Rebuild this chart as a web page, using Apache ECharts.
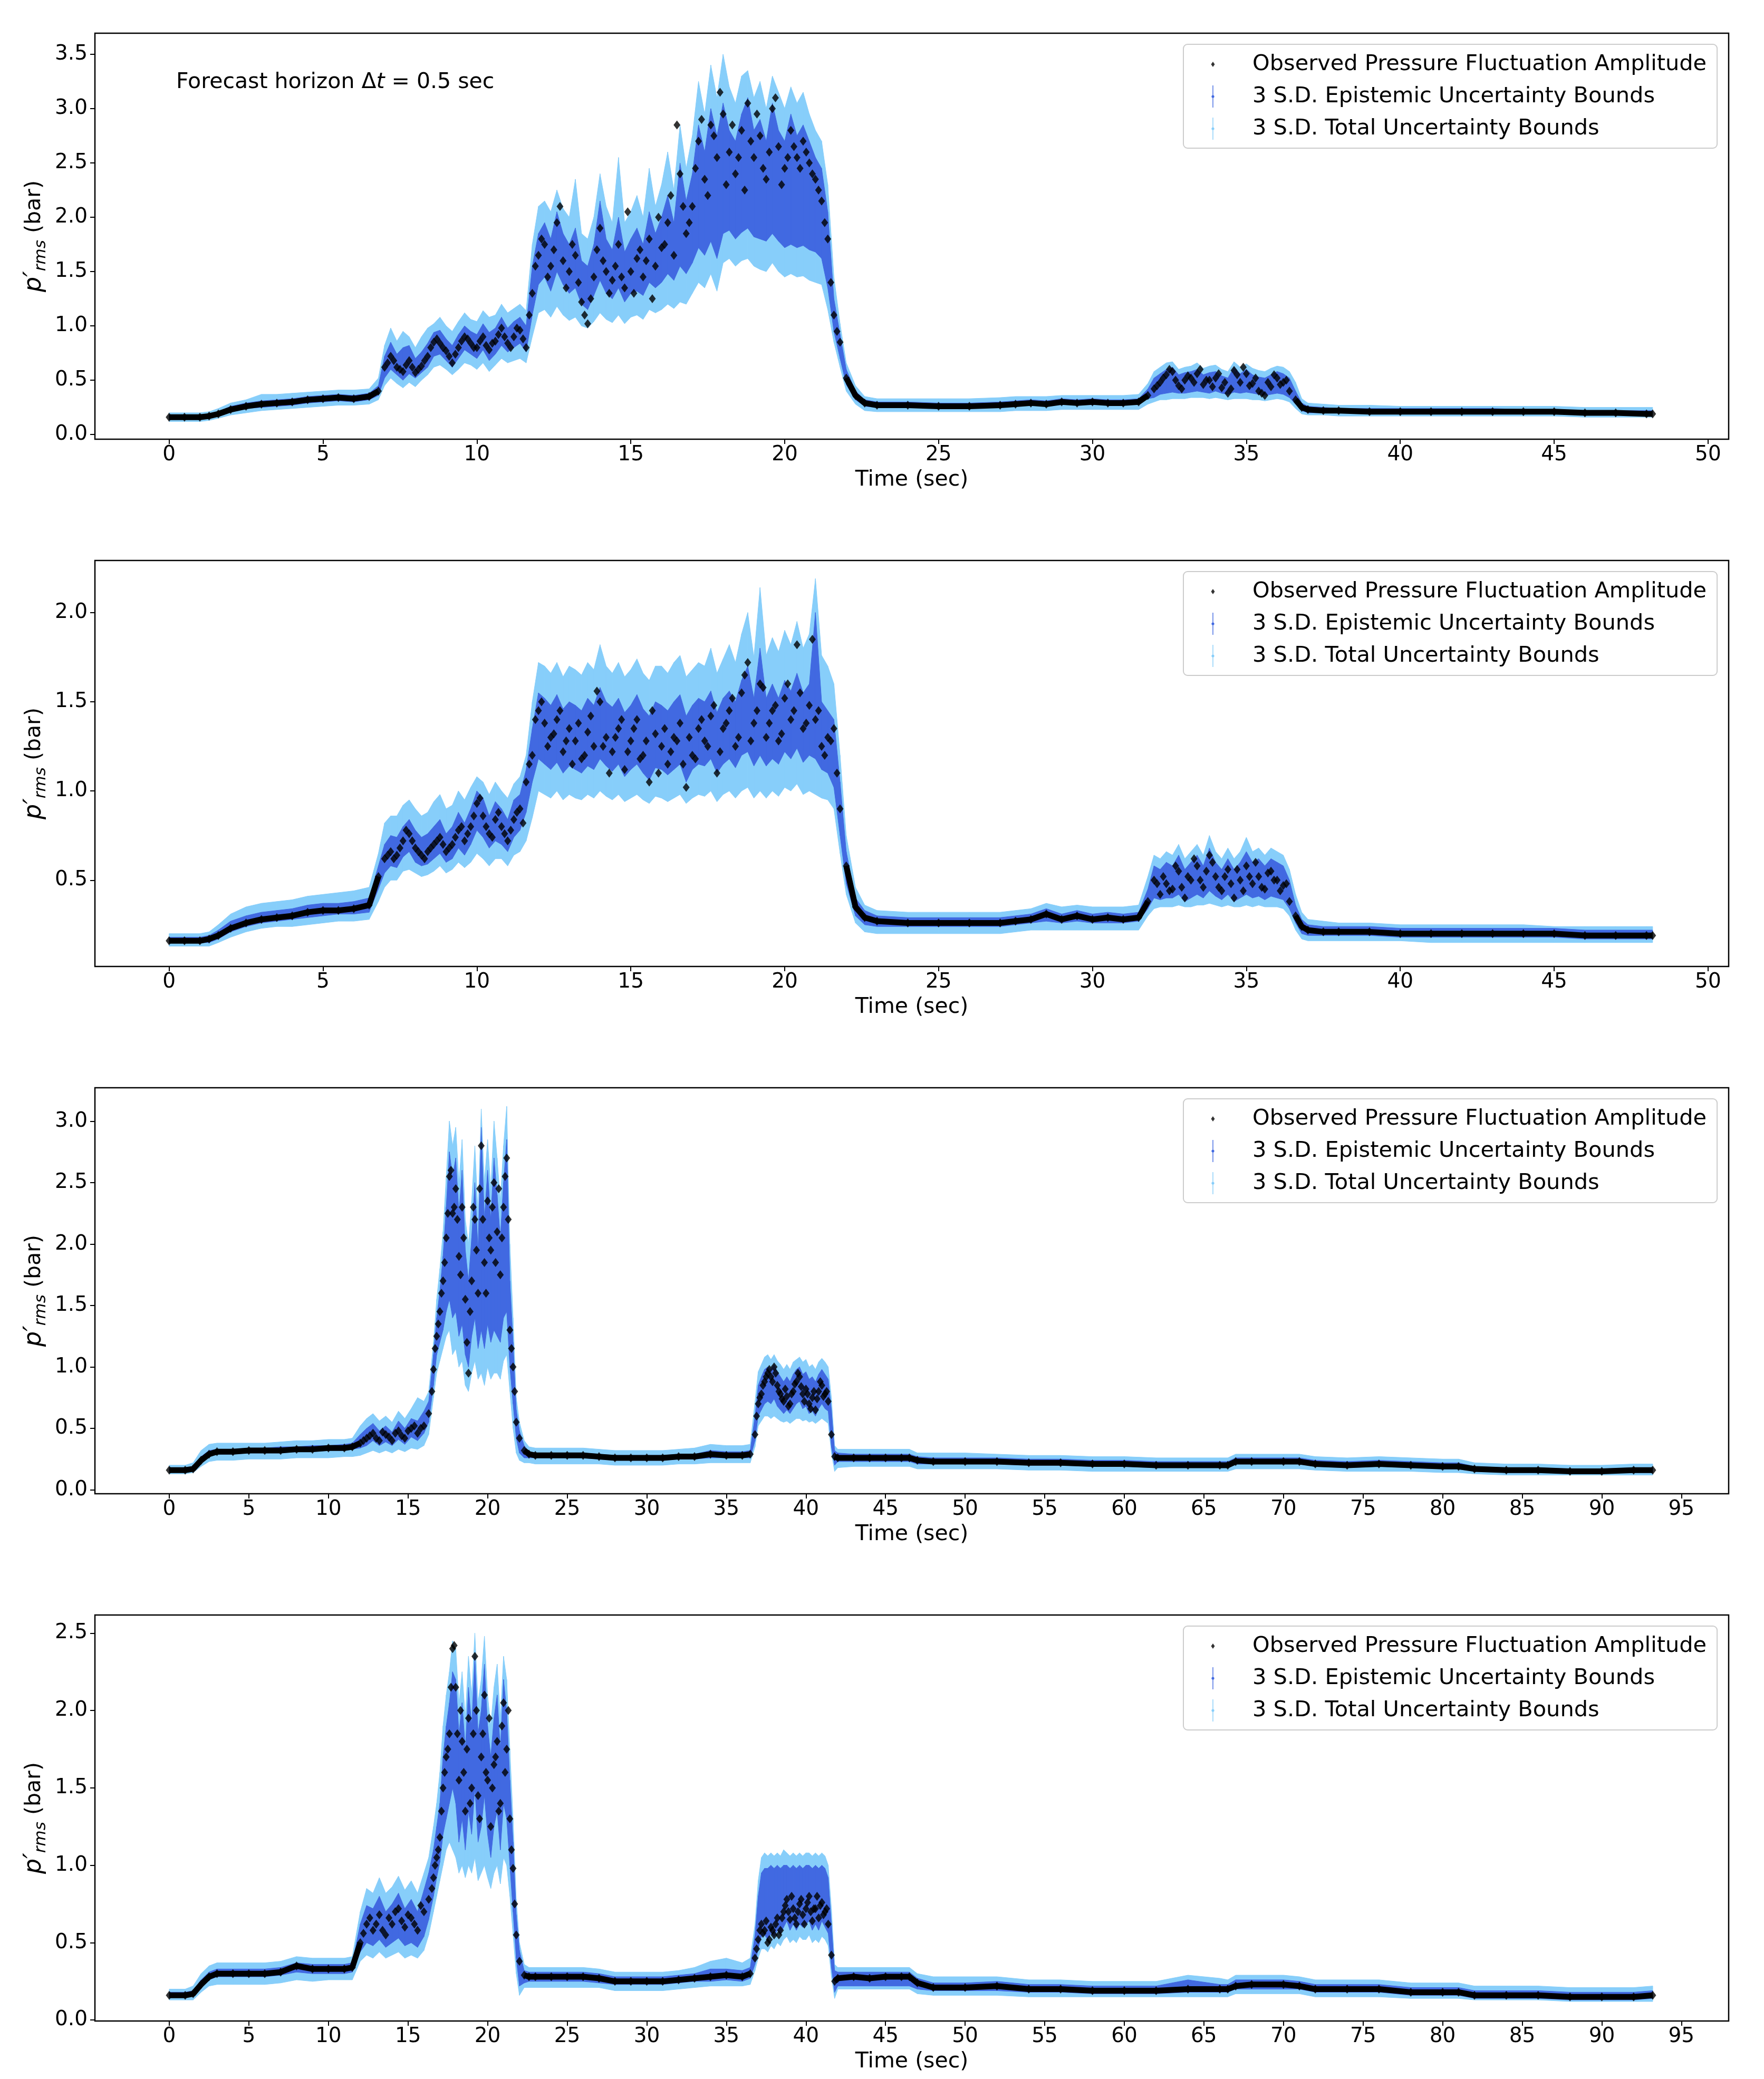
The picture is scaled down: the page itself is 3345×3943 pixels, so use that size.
<!DOCTYPE html>
<html><head><meta charset="utf-8">
<script src="https://cdn.jsdelivr.net/npm/echarts@6/dist/echarts.min.js"></script>
<style>html,body{margin:0;padding:0;background:#fff}#c{width:3345px;height:3943px}</style>
</head><body><div id="c"></div><script>
// ---------- shared time grids ----------
const times12 = [0,0.5,1,1.3,1.6,2,2.5,3,3.5,4,4.5,5,5.5,6,6.5,6.8,
7,7.2,7.4,7.6,7.8,8,8.2,8.4,8.6,8.8,9,9.2,9.4,9.6,9.8,10,10.2,10.4,10.6,10.8,11,11.2,11.4,11.6,11.8,
12,12.2,12.4,12.6,12.8,13,13.2,13.4,13.6,13.8,14,14.2,14.4,14.6,14.8,15,15.2,15.4,15.6,15.8,16,16.2,16.4,16.6,16.8,
17,17.2,17.4,17.6,17.8,18,18.2,18.4,18.6,18.8,19,19.2,19.4,19.6,19.8,20,20.2,20.4,20.6,20.8,21,21.2,21.4,21.6,21.8,
22,22.3,22.6,23,24,25,26,27,27.5,28,28.5,29,29.5,30,30.5,31,31.5,31.8,
32,32.2,32.4,32.6,32.8,33,33.2,33.4,33.6,33.8,34,34.2,34.4,34.6,34.8,35,35.2,35.4,35.6,35.8,36,36.2,36.4,
36.6,36.8,37,37.5,38,39,40,41,42,43,44,45,46,47,48,48.2];

const times34 = [0,1,1.5,2,2.5,3,4,5,6,7,8,9,10,11,11.5,
12,12.4,12.8,13.2,13.6,14,14.4,14.8,15.2,15.6,16,
16.3,16.6,16.8,17,17.2,17.4,17.6,17.8,18,18.2,18.4,18.6,18.8,19,19.2,19.4,19.6,19.8,20,20.2,20.4,20.6,20.8,21,21.2,21.4,21.6,21.8,22,22.3,
22.6,23,24,25,26,27,28,29,30,31,32,33,34,35,36,36.5,
36.8,37,37.2,37.4,37.6,37.8,38,38.2,38.4,38.6,38.8,39,39.2,39.4,39.6,39.8,40,40.2,40.4,40.6,40.8,41,41.2,41.4,
41.6,41.8,42,43,44,45,46,46.5,47,48,50,52,54,56,58,60,62,64,66,66.5,67,68,70,71,72,74,76,78,80,81,82,84,86,88,90,92,93.2];

// extra observation times inside the scattered (unstable) stretches
const timesX12 = [7.1,7.3,7.5,7.7,7.9,8.1,8.3,8.5,8.7,8.9,9.1,9.3,9.5,9.7,9.9,10.1,10.3,10.5,10.7,10.9,11.1,11.3,11.5,11.7,
11.9,12.1,12.3,12.5,12.7,12.9,13.1,13.3,13.5,13.7,13.9,14.1,14.3,14.5,14.7,14.9,15.1,15.3,15.5,15.7,15.9,16.1,16.3,16.5,16.7,
16.9,17.1,17.3,17.5,17.7,17.9,18.1,18.3,18.5,18.7,18.9,19.1,19.3,19.5,19.7,19.9,20.1,20.3,20.5,20.7,20.9,21.1,21.3,21.5,21.7,
32.1,32.3,32.5,32.7,32.9,33.1,33.3,33.5,33.7,33.9,34.1,34.3,34.5,34.7,34.9,35.1,35.3,35.5,35.7,35.9,36.1,36.3];
const timesX34 = [12.2,12.6,13,13.4,13.8,14.2,14.6,15,15.4,15.8,
16.5,16.7,16.9,17.1,17.3,17.5,17.7,17.9,18.1,18.3,18.5,18.7,18.9,19.1,19.3,19.5,19.7,19.9,20.1,20.3,20.5,20.7,20.9,21.1,21.3,21.5,21.7,
36.9,37.1,37.3,37.5,37.7,37.9,38.1,38.3,38.5,38.7,38.9,39.1,39.3,39.5,39.7,39.9,40.1,40.3,40.5,40.7,40.9,41.1,41.3];

// ---------- panel 1 ----------
const obs1 = [.16,.16,.16,.17,.19,.23,.26,.28,.29,.30,.32,.33,.34,.33,.35,.40,
.62,.72,.62,.58,.68,.57,.63,.72,.85,.84,.77,.66,.80,.90,.84,.80,.90,.78,.86,.98,.84,.90,.96,.80,1.30,
1.65,1.75,1.55,1.95,1.60,1.50,1.65,1.22,1.02,1.45,1.90,1.50,1.42,1.75,1.35,1.50,1.62,1.45,1.80,1.55,1.72,1.95,1.65,2.40,1.85,
2.10,2.70,2.35,2.85,2.55,2.95,2.60,2.40,2.80,3.05,2.55,2.75,2.35,3.00,2.65,2.45,2.80,2.55,2.70,2.50,2.35,2.15,1.80,1.10,0.85,
.52,.36,.29,.27,.27,.26,.26,.27,.28,.29,.28,.30,.29,.30,.29,.29,.30,.36,
.42,.48,.55,.58,.45,.50,.52,.56,.46,.50,.52,.43,.38,.59,.48,.56,.47,.40,.36,.44,.52,.48,.40,
.32,.25,.23,.22,.22,.21,.21,.21,.21,.21,.21,.21,.20,.20,.19,.19];
const obsX1 = [.66,.68,.60,.64,.62,.60,.68,.80,.88,.80,.72,.74,.86,.88,.80,.86,.82,.84,.92,.90,.80,.98,.88,1.10,
1.55,1.80,1.45,1.70,2.10,1.35,1.75,1.40,1.10,1.25,1.70,1.60,1.30,1.55,1.45,2.05,1.30,1.70,1.60,1.25,2.00,1.75,2.20,2.85,2.10,
1.95,2.45,2.90,2.20,2.75,3.15,2.30,2.85,2.55,2.25,2.70,2.95,2.45,2.60,3.10,2.30,2.55,2.65,2.45,2.60,2.40,2.25,1.95,1.40,0.95,
.45,.52,.60,.50,.42,.54,.48,.60,.50,.44,.56,.48,.42,.55,.62,.45,.52,.38,.48,.55,.46,.50];
const totLo1 = [.12,.12,.12,.13,.15,.18,.20,.22,.23,.24,.25,.26,.27,.27,.28,.32,
.45,.52,.47,.43,.48,.44,.50,.55,.62,.64,.60,.55,.60,.66,.64,.60,.66,.58,.64,.70,.66,.68,.70,.66,.90,
1.12,1.15,1.08,1.18,1.10,1.05,1.08,1.00,.98,1.04,1.12,1.06,1.03,1.10,1.02,1.08,1.10,1.06,1.15,1.12,1.15,1.20,1.16,1.22,1.20,
1.30,1.40,1.35,1.48,1.32,1.58,1.62,1.55,1.60,1.62,1.55,1.52,1.50,1.58,1.50,1.45,1.48,1.45,1.46,1.42,1.40,1.38,1.15,0.85,0.62,
.40,.28,.22,.21,.21,.21,.21,.21,.22,.22,.22,.23,.23,.23,.23,.23,.23,.28,
.30,.32,.32,.33,.33,.33,.34,.34,.34,.33,.34,.33,.32,.33,.33,.33,.32,.32,.31,.32,.33,.32,.30,
.24,.19,.18,.18,.17,.17,.17,.17,.17,.17,.17,.17,.16,.16,.16,.16];
const epiLo1 = [.14,.14,.14,.15,.17,.21,.24,.25,.26,.27,.29,.30,.31,.30,.32,.36,
.52,.60,.55,.50,.56,.52,.57,.62,.72,.74,.68,.62,.70,.78,.74,.70,.78,.68,.74,.82,.76,.80,.84,.76,1.10,
1.38,1.45,1.32,1.50,1.38,1.30,1.35,1.20,1.15,1.28,1.42,1.30,1.25,1.35,1.22,1.30,1.32,1.28,1.40,1.35,1.40,1.48,1.42,1.55,1.48,
1.58,1.72,1.65,1.78,1.62,1.85,1.88,1.80,1.86,1.90,1.82,1.80,1.78,1.85,1.78,1.72,1.75,1.72,1.74,1.70,1.68,1.62,1.35,0.95,0.70,
.46,.32,.26,.25,.25,.24,.24,.25,.26,.27,.26,.28,.27,.28,.27,.27,.28,.33,
.34,.37,.38,.39,.38,.38,.39,.40,.39,.38,.40,.38,.37,.39,.38,.39,.38,.37,.36,.37,.38,.37,.34,
.28,.22,.20,.20,.20,.20,.20,.20,.20,.20,.19,.19,.19,.18,.18,.18];
const epiHi1 = [.18,.18,.18,.19,.21,.26,.29,.31,.32,.33,.35,.36,.37,.36,.38,.45,
.72,.85,.74,.80,.82,.70,.76,.84,.94,.96,.88,.82,.92,1.00,.95,.92,1.02,.94,.98,1.08,.98,1.04,1.08,1.00,1.55,
1.85,1.95,1.80,2.05,1.85,1.75,1.90,1.60,1.55,1.75,2.15,1.80,1.70,2.00,1.68,1.80,1.90,1.75,2.05,1.85,2.00,2.20,1.95,2.50,2.15,
2.40,2.85,2.60,3.00,2.75,3.05,2.80,2.70,2.95,3.10,2.80,2.90,2.70,3.05,2.80,2.70,2.95,2.75,2.85,2.70,2.55,2.45,2.05,1.25,0.92,
.60,.40,.32,.30,.30,.29,.29,.30,.31,.32,.31,.33,.32,.33,.32,.32,.33,.42,
.52,.56,.60,.62,.55,.57,.58,.60,.55,.57,.58,.54,.52,.62,.56,.60,.55,.53,.52,.55,.58,.56,.52,
.40,.29,.26,.25,.24,.24,.24,.24,.24,.24,.23,.23,.22,.22,.22,.22];
const totHi1 = [.20,.20,.20,.21,.24,.29,.32,.37,.37,.38,.39,.40,.41,.41,.42,.52,
.82,.98,.86,.95,.90,.80,.90,.98,1.02,1.08,1.00,.95,1.04,1.12,1.06,1.04,1.14,1.08,1.10,1.20,1.12,1.16,1.20,1.14,1.75,
2.10,2.15,2.05,2.25,2.08,2.00,2.35,1.85,1.80,2.00,2.40,2.10,1.95,2.55,1.95,2.05,2.20,2.00,2.45,2.10,2.30,2.60,2.25,2.85,2.45,
2.75,3.25,2.95,3.40,3.10,3.50,3.20,3.05,3.30,3.35,3.10,3.25,3.00,3.30,3.15,3.00,3.20,3.05,3.15,2.95,2.80,2.70,2.30,1.45,1.02,
.66,.45,.35,.33,.33,.33,.33,.34,.35,.35,.35,.36,.36,.36,.36,.36,.37,.47,
.58,.62,.66,.67,.60,.62,.63,.66,.61,.63,.64,.60,.58,.67,.62,.65,.61,.59,.58,.61,.63,.62,.58,
.48,.33,.29,.28,.27,.27,.26,.26,.26,.26,.26,.26,.25,.25,.25,.25];

// ---------- panel 2 ----------
const obs2 = [.16,.16,.16,.17,.19,.23,.26,.28,.29,.30,.32,.33,.33,.34,.36,.52,
.62,.66,.64,.72,.76,.68,.64,.66,.70,.74,.66,.70,.78,.72,.80,.93,.86,.76,.84,.80,.72,.84,.90,1.05,1.20,
1.45,1.38,1.30,1.40,1.22,1.35,1.28,1.18,1.33,1.25,1.50,1.30,1.22,1.35,1.12,1.28,1.40,1.20,1.05,1.32,1.25,1.15,1.30,1.38,1.02,
1.20,1.35,1.28,1.42,1.10,1.35,1.45,1.25,1.55,1.72,1.38,1.60,1.30,1.45,1.28,1.52,1.40,1.82,1.35,1.48,1.40,1.25,1.30,1.35,0.90,
.58,.35,.29,.27,.26,.26,.26,.26,.27,.28,.31,.28,.30,.28,.29,.28,.29,.38,
.50,.42,.48,.45,.55,.40,.50,.58,.46,.64,.52,.44,.56,.40,.50,.58,.48,.52,.45,.55,.50,.47,.38,
.30,.24,.22,.21,.21,.21,.20,.20,.20,.20,.20,.20,.19,.19,.19,.19];
const obsX2 = [.64,.62,.68,.78,.72,.66,.62,.68,.72,.70,.68,.74,.80,.76,.86,.96,.80,.74,.88,.76,.78,.88,.82,1.15,
1.40,1.50,1.25,1.32,1.45,1.28,1.15,1.38,1.20,1.42,1.56,1.25,1.10,1.30,1.40,1.22,1.35,1.18,1.28,1.45,1.10,1.35,1.22,1.28,1.15,
1.30,1.18,1.40,1.25,1.48,1.22,1.38,1.52,1.30,1.65,1.28,1.45,1.58,1.38,1.48,1.32,1.60,1.45,1.55,1.38,1.85,1.45,1.20,1.28,1.10,
.48,.52,.44,.58,.46,.52,.62,.50,.55,.60,.46,.52,.48,.56,.44,.52,.60,.46,.54,.50,.44,.48];
const totLo2 = [.13,.13,.13,.13,.15,.18,.21,.23,.24,.24,.25,.26,.27,.27,.28,.38,
.46,.50,.50,.55,.56,.54,.52,.53,.55,.58,.54,.56,.60,.57,.60,.65,.62,.58,.62,.62,.58,.64,.66,.72,.85,
1.00,.98,.96,1.00,.95,.98,.96,.95,.98,.96,1.00,.97,.95,.98,.94,.96,.98,.95,.93,.97,.96,.94,.96,.98,.93,
.96,.98,.97,1.00,.94,.98,1.00,.96,1.00,1.02,.96,1.00,.96,1.00,.97,1.02,1.00,1.04,.98,1.00,.98,.96,.95,.90,.65,
.42,.26,.21,.20,.20,.20,.20,.20,.21,.22,.22,.22,.22,.22,.22,.22,.22,.30,
.34,.35,.35,.35,.36,.35,.35,.36,.36,.37,.36,.35,.36,.35,.35,.36,.35,.36,.35,.35,.35,.34,.30,
.22,.17,.16,.16,.16,.16,.16,.15,.15,.15,.15,.15,.15,.15,.15,.15];
const epiLo2 = [.15,.15,.15,.15,.17,.21,.24,.26,.27,.28,.29,.30,.31,.31,.32,.45,
.54,.58,.57,.63,.66,.60,.58,.59,.62,.65,.60,.62,.68,.64,.70,.78,.74,.68,.72,.70,.66,.74,.78,.88,1.05,
1.18,1.15,1.12,1.16,1.10,1.14,1.12,1.10,1.14,1.12,1.18,1.14,1.11,1.15,1.08,1.12,1.15,1.10,1.06,1.13,1.12,1.09,1.12,1.15,1.05,
1.12,1.15,1.14,1.18,1.10,1.15,1.18,1.13,1.20,1.22,1.14,1.20,1.14,1.18,1.15,1.22,1.18,1.24,1.16,1.20,1.18,1.12,1.10,1.02,.75,
.48,.30,.25,.24,.24,.24,.24,.24,.25,.26,.27,.26,.27,.26,.26,.26,.27,.34,
.40,.39,.40,.40,.42,.38,.40,.42,.40,.44,.41,.39,.42,.38,.40,.42,.40,.41,.39,.41,.40,.39,.34,
.26,.20,.19,.19,.19,.19,.18,.18,.18,.18,.18,.18,.17,.17,.17,.17];
const epiHi2 = [.18,.18,.18,.19,.22,.27,.30,.32,.33,.34,.36,.37,.37,.38,.40,.58,
.70,.75,.74,.80,.84,.78,.74,.76,.80,.84,.76,.80,.88,.82,.90,1.00,.96,.86,.94,.90,.84,.95,.98,1.12,1.35,
1.55,1.52,1.48,1.54,1.46,1.50,1.48,1.45,1.52,1.48,1.58,1.50,1.47,1.52,1.44,1.48,1.54,1.46,1.42,1.50,1.48,1.45,1.50,1.54,1.42,
1.48,1.52,1.50,1.56,1.44,1.52,1.56,1.50,1.62,1.70,1.52,1.80,1.52,1.60,1.52,1.62,1.56,1.66,1.55,1.60,2.00,1.50,1.45,1.40,1.05,
.66,.40,.33,.30,.29,.29,.29,.29,.30,.31,.34,.31,.33,.31,.32,.31,.32,.45,
.58,.56,.60,.58,.64,.56,.60,.64,.58,.68,.60,.56,.62,.56,.60,.66,.60,.62,.58,.62,.60,.58,.50,
.36,.28,.25,.24,.24,.24,.23,.23,.23,.23,.23,.23,.22,.22,.22,.22];
const totHi2 = [.20,.20,.20,.21,.25,.31,.35,.37,.38,.39,.41,.42,.43,.44,.46,.65,
.82,.86,.86,.92,.95,.90,.86,.88,.94,.98,.90,.92,1.00,.95,1.02,1.08,1.05,.98,1.05,1.00,.96,1.04,1.08,1.20,1.50,
1.72,1.70,1.66,1.72,1.64,1.70,1.68,1.65,1.72,1.68,1.82,1.70,1.66,1.72,1.64,1.68,1.74,1.66,1.62,1.70,1.70,1.66,1.72,1.76,1.64,
1.68,1.72,1.70,1.80,1.66,1.74,1.82,1.72,1.88,2.00,1.75,2.14,1.76,1.86,1.78,1.90,1.82,1.95,1.80,1.88,2.19,1.76,1.70,1.60,1.20,
.75,.46,.36,.33,.32,.32,.32,.32,.33,.34,.37,.35,.36,.35,.35,.35,.36,.52,
.64,.62,.66,.64,.70,.62,.66,.70,.64,.75,.66,.62,.68,.62,.66,.74,.66,.68,.64,.68,.66,.64,.56,
.42,.32,.28,.27,.26,.26,.25,.25,.25,.25,.25,.24,.24,.24,.24,.24];

// ---------- panel 3 ----------
const obs3 = [.16,.16,.17,.24,.29,.31,.31,.32,.32,.32,.33,.33,.34,.34,.35,
.38,.42,.46,.40,.45,.40,.48,.42,.50,.46,.52,
.62,.98,1.25,1.45,1.70,2.05,2.55,2.25,2.45,1.90,2.30,1.55,.95,1.70,2.20,1.60,2.80,1.85,2.35,1.95,2.50,2.10,1.75,2.30,2.70,1.30,1.00,.55,.42,.32,
.29,.28,.28,.28,.28,.27,.26,.26,.26,.26,.27,.27,.29,.28,.28,.29,
.45,.70,.78,.88,.95,.92,1.00,.85,.78,.72,.76,.70,.80,.88,.92,.78,.82,.70,.75,.65,.80,.85,.78,.72,
.45,.27,.26,.26,.26,.26,.26,.26,.24,.23,.23,.23,.22,.22,.21,.21,.20,.20,.20,.20,.23,.23,.23,.23,.21,.20,.21,.20,.19,.19,.17,.16,.16,.15,.15,.16,.16];
const obsX3 = [.40,.44,.42,.47,.43,.46,.44,.48,.52,.50,
.80,1.15,1.35,1.60,1.85,2.25,2.60,2.30,2.20,1.75,2.05,1.20,1.45,2.30,1.95,2.45,2.20,1.60,2.05,2.30,1.85,2.45,2.05,2.55,2.20,1.15,.80,
.60,.75,.85,.92,.98,.88,.95,.80,.74,.82,.68,.78,.86,.95,.84,.72,.78,.66,.80,.74,.88,.76,.80];
const totLo3 = [.13,.13,.14,.19,.23,.24,.24,.25,.25,.25,.26,.26,.26,.27,.27,
.28,.30,.32,.30,.32,.30,.33,.31,.34,.33,.36,
.45,.75,.95,1.05,1.15,1.25,1.30,1.10,1.15,1.00,1.05,.85,.80,.95,1.05,.90,.95,.85,1.00,.90,.95,.95,.90,1.05,1.10,.80,.50,.30,.24,.22,
.22,.21,.21,.21,.21,.21,.20,.20,.20,.20,.21,.21,.22,.22,.22,.22,
.35,.52,.56,.60,.60,.58,.60,.58,.56,.55,.56,.54,.56,.58,.58,.56,.57,.55,.56,.54,.56,.58,.56,.54,
.30,.15,.18,.19,.19,.19,.19,.19,.17,.17,.17,.17,.16,.16,.15,.15,.15,.15,.15,.15,.17,.17,.17,.17,.16,.15,.15,.15,.14,.14,.13,.12,.12,.12,.12,.12,.12];
const epiLo3 = [.15,.15,.16,.22,.27,.29,.29,.30,.30,.30,.31,.31,.32,.32,.33,
.34,.36,.40,.36,.39,.36,.41,.37,.43,.40,.46,
.55,.85,1.10,1.20,1.30,1.45,1.55,1.40,1.45,1.25,1.35,1.10,1.00,1.25,1.40,1.15,1.30,1.15,1.35,1.20,1.30,1.25,1.20,1.40,1.45,1.00,.70,.42,.30,.26,
.26,.26,.26,.26,.26,.25,.24,.24,.24,.24,.25,.25,.26,.26,.26,.26,
.40,.60,.65,.70,.72,.70,.74,.68,.65,.62,.65,.62,.66,.70,.72,.66,.68,.62,.64,.60,.66,.70,.66,.64,
.35,.20,.23,.23,.23,.23,.23,.23,.21,.21,.21,.21,.20,.20,.19,.19,.18,.18,.18,.18,.21,.21,.21,.21,.19,.18,.19,.18,.17,.17,.15,.14,.14,.14,.14,.14,.14];
const epiHi3 = [.18,.18,.19,.27,.32,.33,.33,.34,.34,.35,.35,.36,.36,.37,.38,
.45,.50,.54,.48,.52,.47,.56,.50,.58,.56,.64,
.72,1.10,1.40,1.62,1.90,2.30,2.75,2.55,2.70,2.25,2.60,1.95,1.70,2.05,2.50,1.95,2.95,2.20,2.60,2.20,2.70,2.40,2.05,2.50,2.85,1.70,1.20,.65,.48,.36,
.31,.30,.30,.30,.30,.29,.28,.28,.28,.28,.29,.29,.32,.31,.31,.32,
.60,.85,.92,.98,1.00,.98,1.02,.96,.92,.88,.92,.88,.94,.98,1.00,.94,.96,.90,.92,.88,.94,.98,.94,.90,
.65,.32,.30,.29,.29,.29,.29,.29,.27,.26,.26,.26,.25,.25,.24,.24,.23,.23,.23,.23,.26,.26,.26,.26,.24,.23,.24,.23,.22,.22,.19,.18,.18,.17,.17,.18,.18];
const totHi3 = [.20,.20,.22,.32,.37,.38,.38,.38,.38,.39,.40,.40,.41,.41,.42,
.52,.58,.62,.56,.60,.55,.64,.58,.66,.75,.72,
.80,1.20,1.55,1.80,2.10,2.55,3.00,2.80,2.95,2.50,2.85,2.20,2.00,2.35,2.80,2.25,3.10,2.50,2.85,2.45,3.00,2.70,2.35,2.80,3.12,2.00,1.40,.75,.55,.40,
.35,.34,.34,.34,.34,.33,.32,.32,.32,.32,.33,.34,.37,.36,.36,.37,
.72,.96,1.02,1.08,1.10,1.06,1.10,1.05,1.02,.98,1.02,.98,1.04,1.06,1.08,1.04,1.06,1.00,1.02,.98,1.04,1.07,1.04,1.00,
.75,.36,.33,.33,.33,.33,.33,.33,.30,.30,.30,.29,.28,.28,.27,.27,.26,.26,.26,.26,.29,.29,.29,.29,.27,.26,.27,.26,.25,.25,.22,.21,.21,.20,.20,.21,.21];

// ---------- panel 4 ----------
const obs4 = [.16,.16,.17,.23,.28,.30,.30,.30,.30,.31,.35,.33,.33,.33,.34,
.50,.62,.58,.68,.55,.62,.72,.60,.66,.58,.70,
.78,.92,1.05,1.18,1.50,1.70,1.85,2.40,2.15,1.55,1.80,1.35,1.95,1.50,2.35,1.45,1.70,2.10,1.55,1.25,1.65,1.80,1.40,2.05,1.75,1.30,.98,.55,.38,.29,
.28,.28,.28,.28,.28,.27,.25,.25,.25,.25,.26,.27,.28,.29,.28,.30,
.40,.52,.62,.58,.50,.60,.55,.66,.58,.70,.78,.65,.72,.62,.75,.68,.72,.80,.64,.72,.66,.76,.70,.62,
.42,.25,.27,.28,.27,.28,.28,.28,.24,.21,.21,.22,.20,.20,.19,.19,.19,.20,.20,.20,.22,.23,.23,.22,.20,.20,.20,.18,.18,.18,.16,.16,.16,.15,.15,.15,.16];
const obsX4 = [.56,.66,.62,.58,.66,.70,.64,.68,.62,.74,
.85,1.00,1.10,1.35,1.60,1.75,2.15,2.42,1.85,2.00,1.60,1.75,1.40,1.85,2.00,1.30,1.85,1.60,1.95,1.50,1.70,1.35,1.90,1.60,2.00,1.10,.75,
.46,.58,.56,.64,.52,.58,.62,.55,.66,.74,.70,.80,.66,.70,.78,.62,.76,.70,.72,.80,.74,.68,.72];
const totLo4 = [.13,.13,.13,.18,.22,.23,.23,.23,.23,.24,.26,.25,.26,.26,.26,
.38,.42,.40,.44,.40,.42,.44,.40,.42,.40,.45,
.55,.70,.80,.90,1.00,1.10,1.15,1.10,1.05,.95,1.00,.92,1.00,.95,1.05,.90,.95,1.00,.92,.85,.95,1.00,.88,1.05,1.00,.80,.55,.30,.16,.21,
.21,.21,.21,.21,.21,.21,.19,.19,.19,.19,.20,.21,.22,.22,.22,.23,
.32,.40,.46,.46,.44,.48,.46,.50,.48,.52,.54,.50,.52,.50,.54,.52,.52,.55,.50,.52,.50,.54,.52,.48,
.28,.14,.20,.20,.20,.20,.20,.20,.17,.16,.16,.16,.15,.15,.15,.15,.15,.15,.15,.15,.17,.17,.17,.17,.15,.15,.15,.14,.14,.14,.13,.13,.13,.12,.12,.12,.12];
const epiLo4 = [.15,.15,.16,.21,.26,.28,.28,.28,.28,.29,.31,.30,.30,.30,.31,
.44,.50,.48,.52,.47,.50,.53,.48,.50,.47,.54,
.65,.80,.92,1.02,1.20,1.30,1.40,1.50,1.40,1.15,1.30,1.10,1.35,1.20,1.50,1.15,1.25,1.45,1.20,1.05,1.25,1.35,1.10,1.40,1.30,1.00,.70,.40,.22,.24,
.25,.25,.25,.25,.25,.24,.23,.23,.23,.23,.24,.25,.25,.26,.25,.27,
.36,.46,.54,.55,.52,.56,.54,.58,.56,.60,.64,.58,.62,.58,.62,.60,.62,.64,.58,.62,.58,.64,.60,.56,
.34,.18,.22,.22,.22,.22,.22,.22,.20,.19,.19,.19,.18,.18,.17,.17,.17,.18,.18,.18,.20,.20,.20,.20,.18,.18,.18,.16,.16,.16,.14,.14,.14,.13,.13,.13,.14];
const epiHi4 = [.18,.18,.19,.26,.31,.33,.33,.33,.33,.34,.37,.36,.36,.36,.37,
.62,.74,.72,.80,.70,.75,.82,.72,.78,.70,.84,
.95,1.10,1.25,1.40,1.70,1.90,2.05,2.25,2.20,1.85,2.05,1.75,2.15,1.90,2.35,1.85,2.00,2.30,1.90,1.70,1.95,2.10,1.75,2.20,2.00,1.55,1.15,.68,.45,.32,
.31,.31,.31,.31,.31,.30,.28,.28,.28,.28,.29,.30,.33,.33,.32,.34,
.55,.80,.95,.98,.98,1.00,.98,1.00,.98,1.00,1.00,.98,1.00,.98,1.00,.98,1.00,1.00,.98,1.00,.98,1.00,.98,.92,
.62,.32,.31,.31,.31,.31,.31,.31,.27,.24,.24,.25,.23,.23,.22,.22,.22,.26,.23,.23,.26,.26,.26,.25,.23,.23,.23,.21,.21,.21,.19,.19,.19,.18,.18,.18,.19];
const totHi4 = [.20,.20,.22,.30,.35,.37,.37,.37,.37,.38,.41,.40,.40,.40,.41,
.70,.85,.82,.92,.82,.86,.93,.84,.90,.82,.95,
1.05,1.25,1.40,1.60,1.90,2.10,2.25,2.45,2.40,2.05,2.25,1.95,2.35,2.10,2.50,2.05,2.20,2.48,2.10,1.90,2.15,2.30,1.95,2.35,2.20,1.75,1.30,.78,.50,.36,
.34,.34,.34,.34,.34,.33,.31,.31,.31,.31,.32,.34,.38,.40,.37,.40,
.62,.90,1.05,1.08,1.06,1.08,1.06,1.08,1.06,1.10,1.08,1.06,1.08,1.06,1.08,1.06,1.08,1.08,1.06,1.08,1.06,1.08,1.06,1.00,
.72,.36,.34,.34,.34,.34,.34,.34,.30,.28,.28,.28,.26,.26,.25,.25,.25,.29,.27,.26,.29,.29,.29,.28,.26,.26,.26,.24,.24,.24,.22,.22,.22,.21,.21,.21,.22];

// ---------- ticks ----------
const xTicks12 = [0,5,10,15,20,25,30,35,40,45,50];
const xTicks34 = [0,5,10,15,20,25,30,35,40,45,50,55,60,65,70,75,80,85,90,95];
const yTicks1 = [0,0.5,1,1.5,2,2.5,3,3.5];
const yTicks2 = [0.5,1,1.5,2];
const yTicks3 = [0,0.5,1,1.5,2,2.5,3];
const yTicks4 = [0,0.5,1,1.5,2,2.5];
// time spans where the observed points merge into a continuous trace
const calm12 = [[0,6.9],[21.9,31.9],[36.5,48.3]];
const calm34 = [[0,12.1],[22.1,36.7],[41.7,93.3]];

const NAME_OBS = 'Observed Pressure Fluctuation Amplitude';
const NAME_EPI = '3 S.D. Epistemic Uncertainty Bounds';
const NAME_TOT = '3 S.D. Total Uncertainty Bounds';
const FONT = 'DejaVu Sans';
const C_TOT = '#87CEFA', C_EPI = '#4169E1';

const panels = [
  {t:times12, obs:obs1, tx:timesX12, ox:obsX1, tl:totLo1, el:epiLo1, eh:epiHi1, th:totHi1, xr:[-2.41,50.67], yr:[-0.043,3.694], xt:xTicks12, yt:yTicks1, calm:calm12},
  {t:times12, obs:obs2, tx:timesX12, ox:obsX2, tl:totLo2, el:epiLo2, eh:epiHi2, th:totHi2, xr:[-2.41,50.67], yr:[0.016,2.292], xt:xTicks12, yt:yTicks2, calm:calm12},
  {t:times34, obs:obs3, tx:timesX34, ox:obsX3, tl:totLo3, el:epiLo3, eh:epiHi3, th:totHi3, xr:[-4.67,97.97], yr:[-0.032,3.272], xt:xTicks34, yt:yTicks3, calm:calm34},
  {t:times34, obs:obs4, tx:timesX34, ox:obsX4, tl:totLo4, el:epiLo4, eh:epiHi4, th:totHi4, xr:[-4.67,97.97], yr:[-0.006,2.617], xt:xTicks34, yt:yTicks4, calm:calm34}
];

function segs(t, lo, hi){
  const out=[];
  for(let i=0;i<t.length-1;i++) out.push([t[i],lo[i],hi[i],t[i+1],lo[i+1],hi[i+1]]);
  return out;
}
function bandItem(params, api){
  const a=api.coord([api.value(0),api.value(1)]);
  const b=api.coord([api.value(3),api.value(4)]);
  const c=api.coord([api.value(3),api.value(5)]);
  const d=api.coord([api.value(0),api.value(2)]);
  const col=api.visual('color');
  return {type:'polygon', shape:{points:[a,b,c,d]}, style:{fill:col, stroke:col, lineWidth:1}};
}
function inCalm(v, ranges){ return ranges.some(r=>v>=r[0]&&v<=r[1]); }

const ICON_OBS = 'path://M0,0 M20,42 M10,16 L13.5,21 L10,26 L6.5,21 Z';
const ICON_BAR = 'path://M0,0 M20,42 M9.3,0 L10.7,0 L10.7,42 L9.3,42 Z M12.6,21 A2.6,2.6 0 1 1 7.4,21 A2.6,2.6 0 1 1 12.6,21 Z';

const grids=[], xAxes=[], yAxes=[], series=[], legends=[];
panels.forEach((p,k)=>{
  const top = 63 + 1000*k;
  grids.push({left:180, right:67, top:top, height:770, show:true, borderColor:'#000', borderWidth:2.5, backgroundColor:'transparent'});
  xAxes.push({gridIndex:k, type:'value', min:p.xr[0], max:p.xr[1],
    axisLine:{show:false, onZero:false}, splitLine:{show:false},
    axisTick:{show:true, length:9, inside:false, lineStyle:{color:'#000', width:2}, customValues:p.xt},
    axisLabel:{customValues:p.xt, fontFamily:FONT, fontSize:39, color:'#000', margin:10, formatter:v=>String(v)},
    name:'Time (sec)', nameLocation:'middle', nameGap:57,
    nameTextStyle:{fontFamily:FONT, fontSize:41, color:'#000'}});
  yAxes.push({gridIndex:k, type:'value', min:p.yr[0], max:p.yr[1],
    axisLine:{show:false, onZero:false}, splitLine:{show:false},
    axisTick:{show:true, length:9, inside:false, lineStyle:{color:'#000', width:2}, customValues:p.yt},
    axisLabel:{customValues:p.yt, fontFamily:FONT, fontSize:39, color:'#000', margin:14, formatter:v=>v.toFixed(1)},
    name:'{p|p′}{s|rms}{b| (bar)}', nameLocation:'middle', nameGap:80, nameRotate:90,
    nameTextStyle:{fontFamily:FONT, fontSize:41, color:'#000',
      rich:{p:{fontFamily:FONT, fontSize:46, fontStyle:'italic', color:'#000', lineHeight:56},
            s:{fontFamily:FONT, fontSize:31, fontStyle:'italic', color:'#000', lineHeight:30, verticalAlign:'bottom'},
            b:{fontFamily:FONT, fontSize:41, color:'#000', lineHeight:56}}}});
  series.push({type:'custom', name:NAME_TOT, xAxisIndex:k, yAxisIndex:k, renderItem:bandItem,
    data:segs(p.t,p.tl,p.th), encode:{x:[0,3], y:[1,2,4,5]}, itemStyle:{color:C_TOT}, z:1, silent:true, clip:true});
  series.push({type:'custom', name:NAME_EPI, xAxisIndex:k, yAxisIndex:k, renderItem:bandItem,
    data:segs(p.t,p.el,p.eh), encode:{x:[0,3], y:[1,2,4,5]}, itemStyle:{color:C_EPI}, z:2, silent:true, clip:true});
  series.push({type:'line', name:'trace'+k, xAxisIndex:k, yAxisIndex:k, showSymbol:false, silent:true,
    data:p.t.map((v,i)=>inCalm(v,p.calm)?[v,p.obs[i]]:[v,'-']), connectNulls:false,
    lineStyle:{color:'#000', width:11}, itemStyle:{color:'#000'}, z:3});
  const pts = p.t.map((v,i)=>[v,p.obs[i]]).concat(p.tx.map((v,i)=>[v,p.ox[i]]));
  series.push({type:'scatter', name:NAME_OBS, xAxisIndex:k, yAxisIndex:k, symbol:'diamond', symbolSize:[13,17],
    data:pts, itemStyle:{color:'#000'}, z:4, silent:true});
  legends.push({left:2244, top:84+1000*k, orient:'vertical', selectedMode:false,
    itemWidth:20, itemHeight:42, itemGap:19, padding:[17,20,16,46],
    backgroundColor:'rgba(255,255,255,0.8)', borderColor:'#cccccc', borderWidth:2, borderRadius:8,
    textStyle:{fontFamily:FONT, fontSize:41.5, color:'#000', padding:[0,0,0,60]},
    data:[{name:NAME_OBS, icon:ICON_OBS, itemStyle:{color:'#000'}},
          {name:NAME_EPI, icon:ICON_BAR, itemStyle:{color:C_EPI}},
          {name:NAME_TOT, icon:ICON_BAR, itemStyle:{color:C_TOT}}]});
});

const chart = echarts.init(document.getElementById('c'), null, {renderer:'canvas', width:3345, height:3943, devicePixelRatio:1});
chart.setOption({
  animation:false,
  backgroundColor:'#fff',
  grid:grids, xAxis:xAxes, yAxis:yAxes, series:series, legend:legends,
  graphic:[{type:'text', left:334, top:136, z:10,
    style:{text:'{a|Forecast horizon Δ}{i|t}{a| = 0.5 sec}', fontFamily:FONT, fontSize:41, fill:'#000',
      rich:{a:{fontFamily:FONT, fontSize:41, color:'#000'}, i:{fontFamily:FONT, fontSize:41, fontStyle:'italic', color:'#000'}}}}]
});
</script></body></html>
